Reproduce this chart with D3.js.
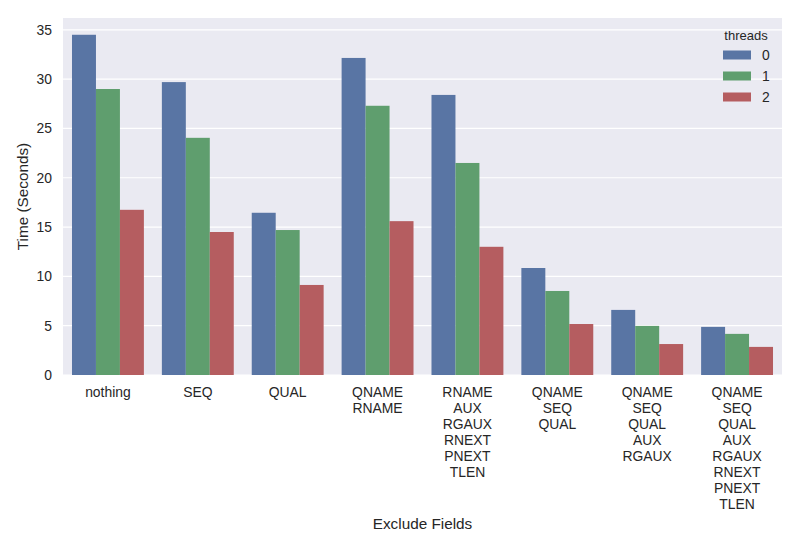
<!DOCTYPE html>
<html>
<head>
<meta charset="utf-8">
<script src="https://cdn.jsdelivr.net/npm/d3@7"></script>
<style>
  html, body { margin: 0; padding: 0; background: #fff; }
  svg text { font-family: Arial, "Liberation Sans", sans-serif; fill: #262626; }
</style>
</head>
<body>
<svg id="chart" width="800" height="550"></svg>
<script>
// ---- data ----
const categories = [
  ["nothing"],
  ["SEQ"],
  ["QUAL"],
  ["QNAME", "RNAME"],
  ["RNAME", "AUX", "RGAUX", "RNEXT", "PNEXT", "TLEN"],
  ["QNAME", "SEQ", "QUAL"],
  ["QNAME", "SEQ", "QUAL", "AUX", "RGAUX"],
  ["QNAME", "SEQ", "QUAL", "AUX", "RGAUX", "RNEXT", "PNEXT", "TLEN"]
];
const threads = ["0", "1", "2"];
const threads0 = [34.5, 29.7, 16.45, 32.15, 28.4, 10.85, 6.6, 4.88];
const threads1 = [29.0, 24.05, 14.7, 27.3, 21.5, 8.52, 4.98, 4.17];
const threads2 = [16.75, 14.5, 9.13, 15.6, 13.0, 5.17, 3.14, 2.85];
const yTicks = [0, 5, 10, 15, 20, 25, 30, 35];
const colors = ["#5975a4", "#5f9e6e", "#b55d60"];

const series = [threads0, threads1, threads2];

// ---- layout ----
const svg = d3.select("#chart");
const x0 = 63, x1 = 782, yTop = 18, yBot = 375;

const catKeys = categories.map((c, i) => String(i));
const x = d3.scaleBand().domain(catKeys).range([x0, x1]).paddingInner(0.2).paddingOuter(0.1);
const xs = d3.scaleBand().domain(threads).range([0, x.bandwidth()]).padding(0);
const y = d3.scaleLinear().domain([0, 36.2]).range([yBot, yTop]);

// background
svg.append("rect").attr("x", x0).attr("y", yTop).attr("width", x1 - x0).attr("height", yBot - yTop).attr("fill", "#EAEAF2");

// grid
svg.append("g").selectAll("line").data(yTicks).join("line")
  .attr("x1", x0).attr("x2", x1)
  .attr("y1", d => y(d)).attr("y2", d => y(d))
  .attr("stroke", "#ffffff").attr("stroke-width", 1.2);

// bars
const g = svg.append("g");
series.forEach((vals, si) => {
  g.append("g").selectAll("rect").data(vals).join("rect")
    .attr("x", (d, i) => x(String(i)) + xs(threads[si]))
    .attr("width", xs.bandwidth())
    .attr("y", d => y(d))
    .attr("height", d => y(0) - y(d))
    .attr("fill", colors[si]);
});

// y axis
const yAxis = d3.axisLeft(y).tickValues(yTicks).tickSize(0).tickPadding(11);
const ya = svg.append("g").attr("transform", `translate(${x0},0)`).call(yAxis);
ya.select(".domain").remove();
ya.selectAll("text").style("font-size", "13.9px").style("font-family", "Arial, 'Liberation Sans', sans-serif").attr("fill", "#262626");

// x axis labels (multi-line)
const xa = svg.append("g");
categories.forEach((lines, i) => {
  const cx = x(String(i)) + x.bandwidth() / 2;
  const t = xa.append("text").attr("text-anchor", "middle").style("font-size", "13.9px");
  lines.forEach((ln, j) => {
    t.append("tspan").attr("x", cx).attr("y", 397 + j * 16).text(ln);
  });
});

// axis titles
svg.append("text").attr("x", (x0 + x1) / 2).attr("y", 529).attr("text-anchor", "middle")
  .style("font-size", "15.3px").text("Exclude Fields");
svg.append("text").attr("transform", `translate(28,${(yTop + yBot) / 2}) rotate(-90)`)
  .attr("text-anchor", "middle").style("font-size", "15.3px").text("Time (Seconds)");

// legend
const lg = svg.append("g");
lg.append("text").attr("x", 746).attr("y", 40).attr("text-anchor", "middle").style("font-size", "13px").text("threads");
threads.forEach((t, i) => {
  const cy = 55 + i * 21;
  lg.append("rect").attr("x", 723).attr("y", cy - 4.5).attr("width", 28).attr("height", 9).attr("fill", colors[i]);
  lg.append("text").attr("x", 762).attr("y", cy + 5).style("font-size", "13.9px").text(t);
});
</script>
</body>
</html>
